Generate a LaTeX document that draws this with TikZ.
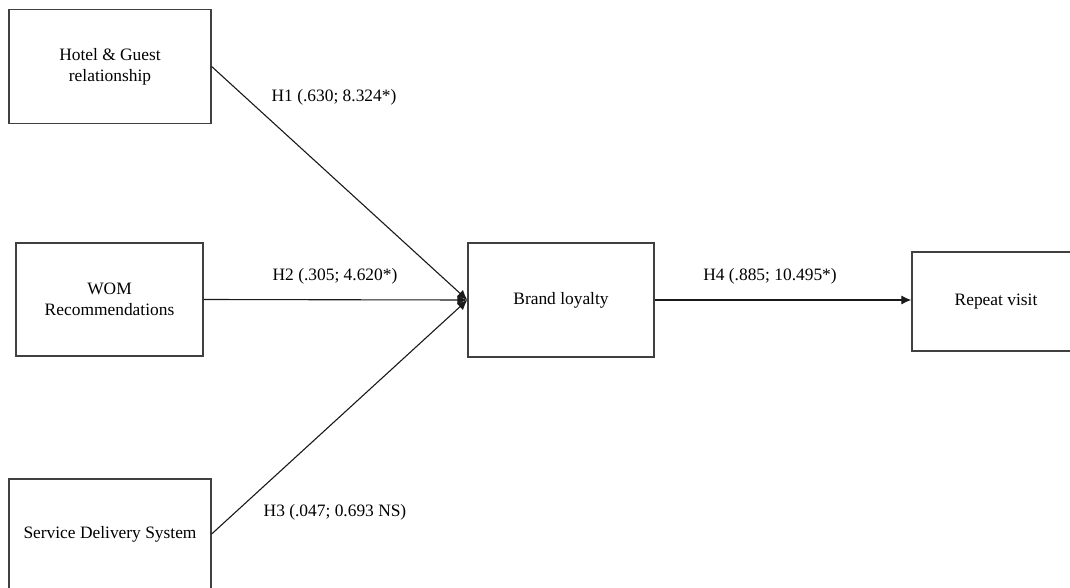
\documentclass[tikz,border=0pt]{standalone}
\usepackage{fontspec}
\setmainfont{Liberation Serif}
\usetikzlibrary{arrows.meta}
\begin{document}
\begin{tikzpicture}[x=1pt,y=-1pt,
  box/.style={draw=black!75, line width=1.3pt, rectangle, align=center, inner sep=0pt,
    font=\fontsize{17.4}{21}\selectfont},
  link/.style={draw=black!90, line width=1.1pt, -{Latex[length=10pt,width=9pt]}},
  lbl/.style={font=\fontsize{17.4}{21}\selectfont, inner sep=0pt}]
\useasboundingbox (0,0) rectangle (1070,588);
\node[box, minimum width=202, minimum height=114] (hotel) at (110,66.5) {Hotel \& Guest\\relationship};
\node[box, minimum width=187, minimum height=113] (wom) at (109.5,299.5) {WOM\\Recommendations};
\node[box, minimum width=202, minimum height=110] (sds) at (110,534) {Service Delivery System};
\node[box, minimum width=186, minimum height=114] (brand) at (561,300) {Brand loyalty};
\node[box, minimum width=168, minimum height=99] (repeat) at (996,301.5) {Repeat visit};
\draw[link] (hotel.east) -- (brand.west);
\draw[link] (wom.east) -- (brand.west);
\draw[link] (sds.east) -- (brand.west);
\draw[link] (brand.east) -- (brand.east -| repeat.west);
\node[lbl] (h1) at (334,97) {H1 (.630; 8.324*)};
\node[lbl] (h2) at (335,276) {H2 (.305; 4.620*)};
\node[lbl] (h3) at (335,512) {H3 (.047; 0.693 NS)};
\node[lbl] (h4) at (770,276) {H4 (.885; 10.495*)};
\end{tikzpicture}
\end{document}
